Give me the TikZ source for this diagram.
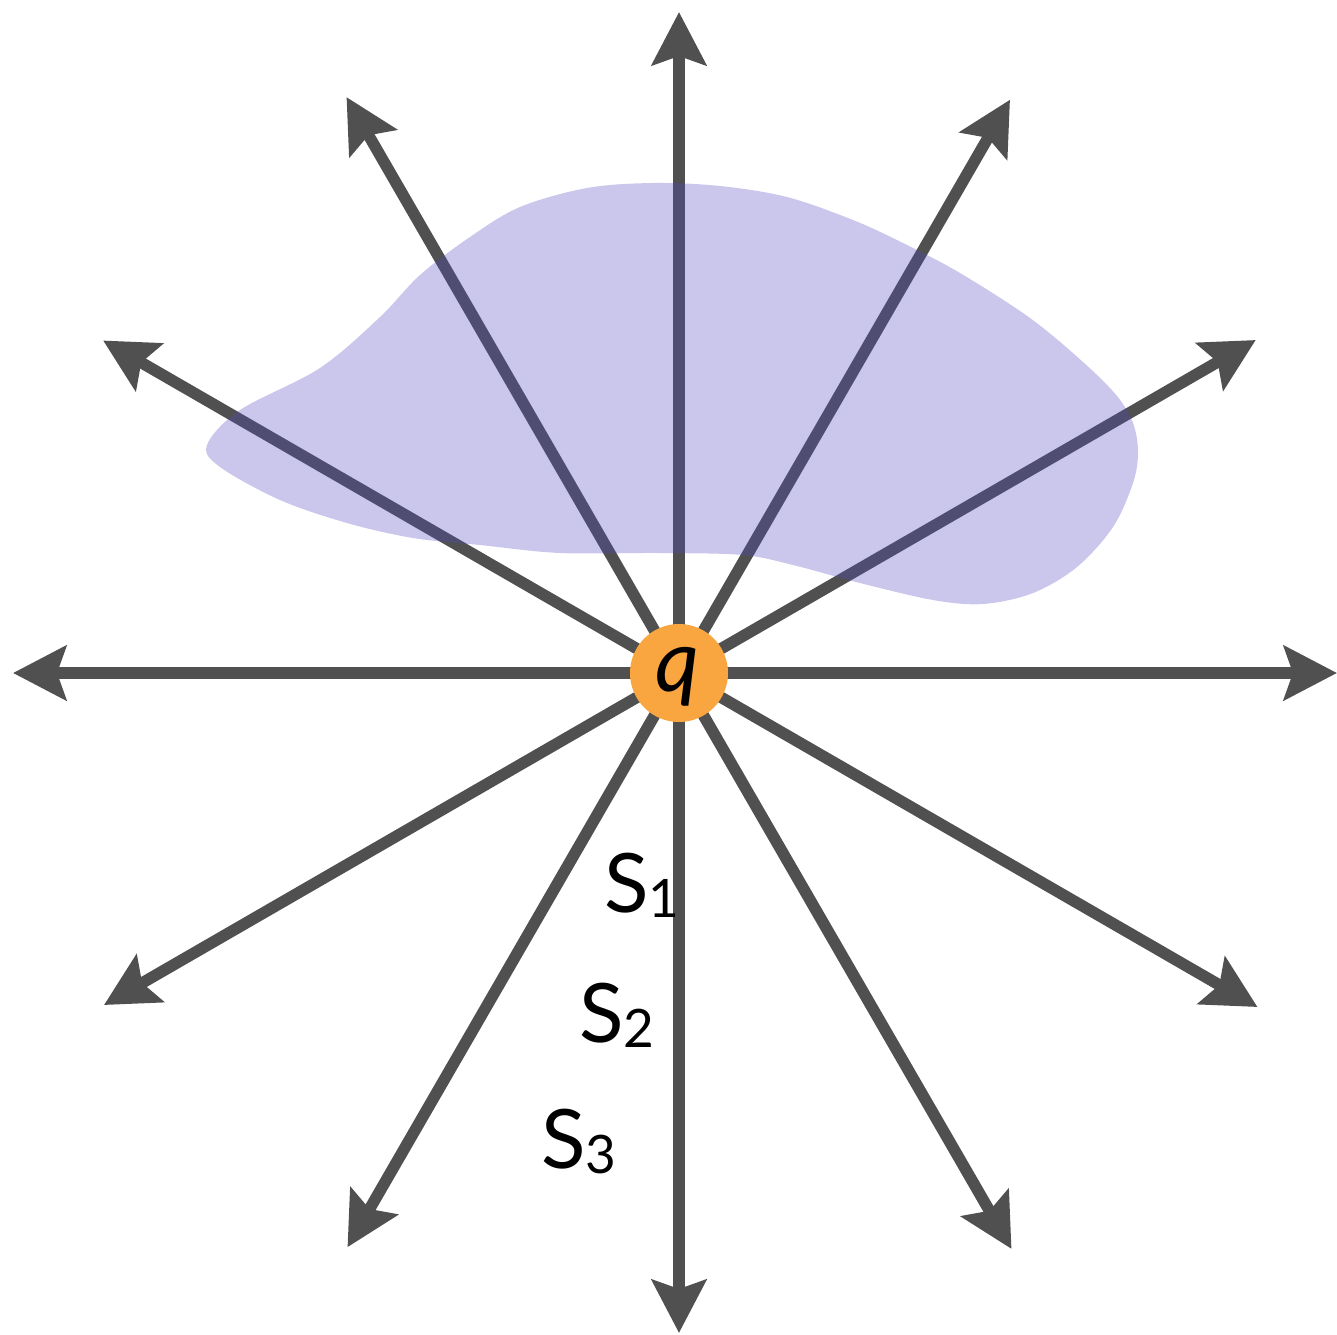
\documentclass[tikz,border=0pt]{standalone}
\usepackage{fontspec}
\setmainfont{Lato}
\usetikzlibrary{arrows.meta,calc}
\definecolor{linegray}{RGB}{80,80,80}
\definecolor{blobcol}{RGB}{83,71,195}
\definecolor{chargeor}{RGB}{250,166,64}
\tikzset{
  ray/.style={draw=linegray, line width=11.5pt, -{Stealth[length=53pt, width=54pt, inset=9pt]}},
  blob/.style={fill=blobcol, fill opacity=0.31, draw=none},
  charge/.style={circle, fill=chargeor, minimum size=98pt, inner sep=0pt},
  lbl/.style={inner sep=0pt, anchor=base west, font=\fontsize{82}{82}\selectfont}
}
\newcommand{\subsc}[1]{\raisebox{-5pt}{\fontsize{53}{53}\selectfont #1}}
\begin{document}
\begin{tikzpicture}[x=1pt, y=-1pt]
\useasboundingbox (0,0) rectangle (1337,1334);
\coordinate (o) at (679,673);
\foreach \k/\r in {0/658,1/668,2/665,3/660,4/663,5/664,6/666,7/665,8/665,9/661,10/662,11/666}{
  \coordinate (t\k) at ($(o)+(\k*30:\r)$);
}
\foreach \k in {0,...,11}{
  \draw[ray] (o) -- (t\k);
}
\fill[blob] plot[smooth cycle, tension=0.55] coordinates {
 (207,445) (240,410) (320,368) (380,317) (420,275) (470,237) (520,207) (587,188)
 (653,183) (720,186) (787,197) (853,220) (903,243) (960,273) (1030,318) (1083,362)
 (1117,396) (1133,423) (1138,452) (1133,483) (1113,527) (1077,567) (1033,593)
 (983,604) (933,600) (860,583) (793,565) (743,555) (660,553) (560,553) (480,545)
 (413,538) (347,523) (280,500) (220,467)};
\node[charge] (q) at (o) {};
\node[inner sep=0pt, anchor=base, font=\fontsize{86}{86}\selectfont\itshape] (ql) at (677,691) {q};
\node[lbl] (s1) at (604,912) {S\subsc{1}};
\node[lbl] (s2) at (579,1042) {S\subsc{2}};
\node[lbl] (s3) at (541,1168) {S\subsc{3}};
\end{tikzpicture}
\end{document}
